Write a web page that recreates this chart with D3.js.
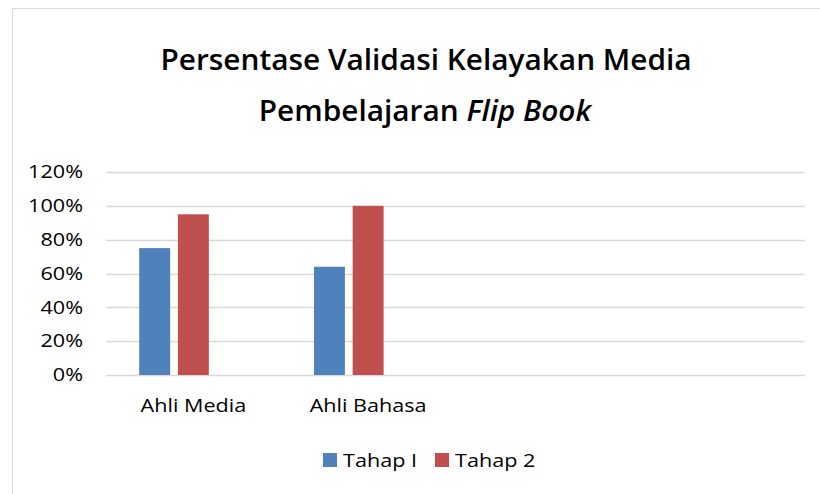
<!DOCTYPE html>
<html>
<head>
<meta charset="utf-8">
<script src="https://cdn.jsdelivr.net/npm/d3@7"></script>
<style>
  body { margin: 0; background: #fff; }
  svg { font-family: "Open Sans", "Noto Sans", sans-serif; }
</style>
</head>
<body>
<svg></svg>
<script>
// data
let categories = ["Ahli Media", "Ahli Bahasa", "", " "]
let seriesNames = ["Tahap I", "Tahap 2", "Tahap 3"]
let tahap1 = [0.75, 0.64, null, null]
let tahap2 = [0.95, 1.00, null, null]
let tahap3 = [null, null, null, null]
let yTicks = [0, 0.2, 0.4, 0.6, 0.8, 1.0, 1.2]

let colors = ["#4f81bd", "#c0504d", "#9bbb59"]

let width = 820
let height = 494
let plotLeft = 106
let plotRight = 805
let plotTop = 172
let plotBottom = 375
let stretch = "scale(1.2, 1)"

let svg = d3.select("svg")
    .attr("width", width)
    .attr("height", height)

// chart border
svg.append("rect")
    .attr("x", 12.5)
    .attr("y", 8.5)
    .attr("width", 830)
    .attr("height", 500)
    .attr("fill", "#fff")
    .attr("stroke", "#d9d9d9")

let xScale = d3.scaleBand()
    .domain(categories)
    .range([plotLeft, plotRight])
    .paddingInner(0.38)
    .paddingOuter(0.19)

let xInner = d3.scaleBand()
    .domain(seriesNames)
    .range([0, xScale.bandwidth()])
    .paddingInner(0.2)

let yScale = d3.scaleLinear()
    .domain([0, 1.2])
    .range([plotBottom, plotTop])

// gridlines
svg.append("g")
    .selectAll("line")
    .data(yTicks)
    .enter()
    .append("line")
    .attr("x1", plotLeft)
    .attr("x2", plotRight)
    .attr("y1", d => Math.round(yScale(d)) + 0.5)
    .attr("y2", d => Math.round(yScale(d)) + 0.5)
    .attr("stroke", "#d9d9d9")
    .attr("stroke-width", 1.3)

let yAxis = d3.axisLeft(yScale)
    .tickValues(yTicks)
    .tickFormat(d3.format(".0%"))
    .tickSize(0)
    .tickPadding(0)

svg.append("g")
    .attr("transform", "translate(83, 0)")
    .call(yAxis)
    .call(g => g.select(".domain").remove())
    .selectAll("text")
    .attr("font-size", 18)
    .attr("fill", "#000")
    .attr("font-family", "Open Sans, sans-serif")
    .attr("transform", stretch)

let xAxis = d3.axisBottom(xScale)
    .tickSize(0)
    .tickPadding(0)

svg.append("g")
    .attr("transform", "translate(0, 399)")
    .call(xAxis)
    .call(g => g.select(".domain").remove())
    .selectAll("text")
    .attr("font-size", 18)
    .attr("fill", "#000")
    .attr("font-family", "Open Sans, sans-serif")
    .attr("transform", stretch)

let allSeries = [tahap1, tahap2, tahap3]

allSeries.forEach((values, s) => {
    svg.append("g")
        .selectAll("rect")
        .data(values.map((v, i) => ({ cat: categories[i], v: v })).filter(d => d.v != null))
        .enter()
        .append("rect")
        .attr("x", d => xScale(d.cat) + xInner(seriesNames[s]))
        .attr("width", xInner.bandwidth())
        .attr("y", d => yScale(d.v))
        .attr("height", d => yScale(0) - yScale(d.v))
        .attr("fill", colors[s])
})

// title
let title = svg.append("g")
    .attr("text-anchor", "middle")
    .attr("font-size", 28)
    .attr("font-weight", 600)
    .attr("fill", "#000")

title.append("text")
    .attr("transform", "translate(426, 70) scale(1.065, 1)")
    .text("Persentase Validasi Kelayakan Media")

let t2 = title.append("text")
    .attr("transform", "translate(425, 121) scale(1.065, 1)")
t2.append("tspan").text("Pembelajaran ")
t2.append("tspan").attr("font-style", "italic").text("Flip Book")

// legend (only two series shown)
let legendItems = [
    { name: seriesNames[0], color: colors[0], x: 323 },
    { name: seriesNames[1], color: colors[1], x: 435 }
]

let legend = svg.append("g")
legend.selectAll("rect")
    .data(legendItems)
    .enter()
    .append("rect")
    .attr("x", d => d.x)
    .attr("y", 453)
    .attr("width", 14)
    .attr("height", 14)
    .attr("fill", d => d.color)

legend.selectAll("text")
    .data(legendItems)
    .enter()
    .append("text")
    .attr("transform", d => "translate(" + (d.x + 20) + ", 467) " + stretch)
    .attr("font-size", 18)
    .attr("fill", "#000")
    .text(d => d.name)
</script>
</body>
</html>
